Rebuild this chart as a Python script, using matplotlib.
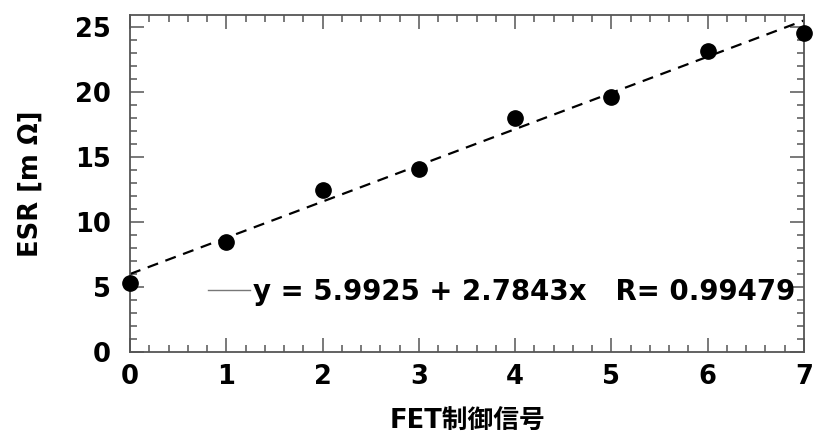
import numpy as np
import matplotlib
matplotlib.use("Agg")
import matplotlib.pyplot as plt
from matplotlib.ticker import MultipleLocator

plt.rcParams['font.family'] = ['DejaVu Sans', 'Noto Sans CJK JP']

fet_signal = [0, 1, 2, 3, 4, 5, 6, 7]
esr_mohm = [5.3, 8.45, 12.45, 14.05, 17.95, 19.6, 23.1, 24.5]
fit_intercept = 5.9925
fit_slope = 2.7843
fit_r = 0.99479

x_label = "FET制御信号"
y_label = "ESR [m Ω]"
fit_label = "y = 5.9925 + 2.7843x   R= 0.99479"

fig = plt.figure(figsize=(8.21, 4.37), dpi=100)
ax = fig.add_axes([130/821, 1 - 352/437, (804-130)/821, (352-15)/437])

xs = np.array([0, 7])
ax.plot(xs, fit_intercept + fit_slope * xs, color='black', lw=1.6,
        linestyle=(0, (5, 3.5)), zorder=2)
ax.plot(fet_signal, esr_mohm, 'o', color='black', markersize=11,
        zorder=3, clip_on=False)

ax.set_xlim(0, 7)
ax.set_ylim(0, 25.9)
ax.xaxis.set_major_locator(MultipleLocator(1))
ax.xaxis.set_minor_locator(MultipleLocator(0.2))
ax.yaxis.set_major_locator(MultipleLocator(5))
ax.yaxis.set_minor_locator(MultipleLocator(1))

spine_c = '#555555'
for s in ax.spines.values():
    s.set_color(spine_c)
    s.set_linewidth(1.3)
ax.tick_params(which='both', direction='in', top=True, right=True,
               color=spine_c, width=1.1)
ax.tick_params(which='major', length=10, labelsize=18.5)
ax.tick_params(axis='x', which='major', pad=9)
ax.tick_params(axis='y', which='major', pad=14)
ax.tick_params(which='minor', length=5)
for lab in ax.get_xticklabels() + ax.get_yticklabels():
    lab.set_fontweight('bold')

ax.set_xlabel(x_label, fontsize=18.5, fontweight='bold', labelpad=13)
ax.set_ylabel(y_label, fontsize=18.5, fontweight='bold', labelpad=22)

# legend-like annotation
ax.plot([0.81, 1.25], [4.75, 4.75], color='#777777', lw=1.0)
ax.text(1.28, 4.6, fit_label, fontsize=19.9, fontweight='bold',
        va='center', ha='left')

fig.savefig("out.png", dpi=100)
